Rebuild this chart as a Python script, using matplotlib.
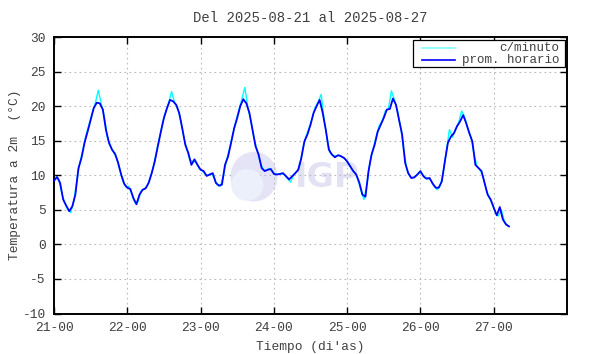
import numpy as np
import matplotlib
matplotlib.use("Agg")
import matplotlib.pyplot as plt
from matplotlib.patches import Ellipse, Rectangle
from matplotlib.lines import Line2D

plt.rcParams['font.family'] = ['Liberation Mono', 'DejaVu Sans Mono']

# ---------------- data ----------------
title = "Del 2025-08-21 al 2025-08-27"
xlabel = "Tiempo (di'as)"
ylabel = "Temperatura a 2m  (°C)"
day_labels = ["21-00", "22-00", "23-00", "24-00", "25-00", "26-00", "27-00"]
legend_labels = ["c/minuto", "prom. horario"]

# hourly mean (hours since 2025-08-21 00:00)
prom_horario = [
    9.2, 9.75, 8.9, 6.5, 5.6, 4.8, 5.5, 7.2, 11.0, 12.5, 14.7, 16.3,
    18.0, 19.7, 20.5, 20.4, 19.5, 16.6, 14.7, 13.7, 13.1, 11.8, 10.1, 8.75,
    8.2, 8.0, 6.7, 5.8, 7.2, 7.9, 8.1, 8.9, 10.3, 12.0, 14.2, 16.3,
    18.3, 19.7, 20.9, 20.7, 20.2, 19.0, 16.8, 14.4, 13.2, 11.5, 12.3, 11.5,
    10.8, 10.6, 9.9, 10.1, 10.3, 8.9, 8.5, 8.65, 11.5, 12.7, 14.7, 16.8,
    18.3, 20.0, 21.0, 20.4, 19.0, 16.6, 14.2, 13.0, 11.05, 10.6, 10.8, 10.9,
    10.2, 10.1, 10.2, 10.3, 9.85, 9.4, 9.85, 10.3, 10.8, 12.5, 14.9, 15.9,
    17.3, 19.0, 20.0, 20.9, 19.0, 16.6, 13.7, 13.0, 12.6, 12.9, 12.75, 12.5,
    12.0, 11.3, 10.6, 10.1, 8.9, 7.2, 6.9, 10.6, 13.0, 14.4, 16.3, 17.3,
    18.3, 19.5, 19.6, 21.1, 20.2, 18.0, 15.9, 11.8, 10.3, 9.6, 9.7, 10.1,
    10.6, 9.85, 9.5, 9.6, 8.8, 8.2, 8.2, 9.1, 12.0, 14.7, 15.6, 16.1,
    17.1, 17.8, 18.7, 17.5, 16.1, 14.9, 11.5, 11.05, 10.6, 8.9, 7.2, 6.5,
    5.3, 4.2, 5.4, 3.6, 2.9, 2.6,
]

# per-minute readings sampled at half past each hour
c_minuto = [
    9.8, 9.5, 7.5, 6.0, 5.0, 4.6, 6.3, 9.3, 11.9, 13.8, 15.9, 17.4,
    19.0, 20.4, 22.3, 20.3, 18.4, 15.4, 14.3, 13.3, 12.5, 10.8, 9.2, 8.3,
    8.4, 7.2, 6.0, 6.2, 7.7, 8.0, 8.4, 9.6, 11.2, 13.3, 15.4, 17.4,
    19.1, 20.4, 22.1, 20.5, 19.8, 17.9, 15.5, 13.8, 12.2, 12.0, 11.9, 11.0,
    10.7, 10.1, 10.0, 10.3, 9.5, 8.6, 8.4, 10.0, 12.2, 13.9, 15.9, 17.7,
    19.4, 21.0, 22.7, 19.8, 17.8, 15.4, 13.6, 11.9, 10.8, 10.7, 11.0, 10.6,
    10.1, 10.2, 10.2, 10.1, 9.5, 9.0, 10.1, 10.5, 11.5, 13.9, 15.6, 16.8,
    18.2, 19.8, 20.6, 21.7, 17.9, 15.1, 13.2, 12.8, 12.8, 12.9, 12.6, 12.3,
    11.7, 10.9, 10.4, 9.4, 7.8, 6.5, 8.8, 12.0, 13.8, 15.6, 17.2, 17.9,
    19.3, 19.6, 22.2, 20.9, 19.3, 17.0, 13.8, 10.9, 9.9, 9.6, 9.9, 10.4,
    10.2, 9.6, 9.6, 9.2, 8.4, 7.9, 8.5, 10.5, 13.6, 16.6, 15.5, 16.7,
    17.6, 19.3, 18.4, 16.8, 15.6, 13.2, 11.3, 10.8, 9.8, 8.0, 6.8, 5.9,
    4.7, 4.1, 5.0, 3.3, 2.7,
]

yticks = [-10, -5, 0, 5, 10, 15, 20, 25, 30]

# ---------------- figure ----------------
W, H = 590, 354
fig = plt.figure(figsize=(W / 100, H / 100), dpi=100)
L, R, T, B = 54, 567, 37, 313.5
ax = fig.add_axes([L / W, (H - B) / H, (R - L) / W, (B - T) / H])

txt_color = '#404040'
fs = 9.3

t_h = np.arange(len(prom_horario))
t_m = np.arange(len(c_minuto)) + 0.5

# watermark (IGP logo, faint)
ax.add_patch(Ellipse((65.5, 9.8), 15.4, 7.2, facecolor='#e4e4f6',
                     edgecolor='none', zorder=0.5))
ax.add_patch(Ellipse((63.3, 8.6), 10.5, 4.6, facecolor='#ecf0fb',
                     edgecolor='none', zorder=0.6))
ax.text(79.0, 9.7, "IGP", fontsize=24, fontweight='bold', family='DejaVu Sans',
        color='#e2e2f4', ha='left', va='center', zorder=0.5)

ax.plot(t_m, c_minuto, color='#00ffff', lw=1.0, zorder=2)
ax.plot(t_h, prom_horario, color='#0000ff', lw=1.3, zorder=3)

ax.set_xlim(0, 168)
ax.set_ylim(-10, 30)
ax.set_xticks(np.arange(len(day_labels)) * 24)
ax.set_xticklabels(day_labels)
ax.set_yticks(yticks)
ax.set_yticklabels([str(v) for v in yticks])

ax.grid(True, color='#b8b8b8', linestyle=(0, (1.5, 3)), lw=0.8, zorder=1)
ax.set_axisbelow(True)
for s in ax.spines.values():
    s.set_linewidth(1.4)
    s.set_color('black')
ax.tick_params(direction='in', length=5, width=1.0, top=True, right=True,
               labelsize=fs, labelcolor=txt_color, pad=6)

ax.set_title(title, fontsize=10, color=txt_color, pad=11)
ax.set_xlabel(xlabel, fontsize=fs, color=txt_color, labelpad=5)
ax.set_ylabel(ylabel, fontsize=fs, color=txt_color, labelpad=1)

# legend (manual, gnuplot style)
bx0, bx1, by0, by1 = 413, 565, 40, 67
fig.patches.append(Rectangle((bx0 / W, 1 - by1 / H), (bx1 - bx0) / W, (by1 - by0) / H,
                             transform=fig.transFigure, facecolor='white',
                             edgecolor='black', lw=0.9, zorder=5))
rows = [(48, '#7fffff', legend_labels[0]), (60, '#0000ff', legend_labels[1])]
for yy, col, lab in rows:
    fig.lines.append(Line2D([422 / W, 455 / W], [1 - yy / H, 1 - yy / H],
                            transform=fig.transFigure, color=col, lw=1.2, zorder=6))
    fig.text(559 / W, 1 - yy / H, lab, ha='right', va='center', fontsize=9,
             color=txt_color, zorder=6)

fig.savefig('out.png', dpi=100)
